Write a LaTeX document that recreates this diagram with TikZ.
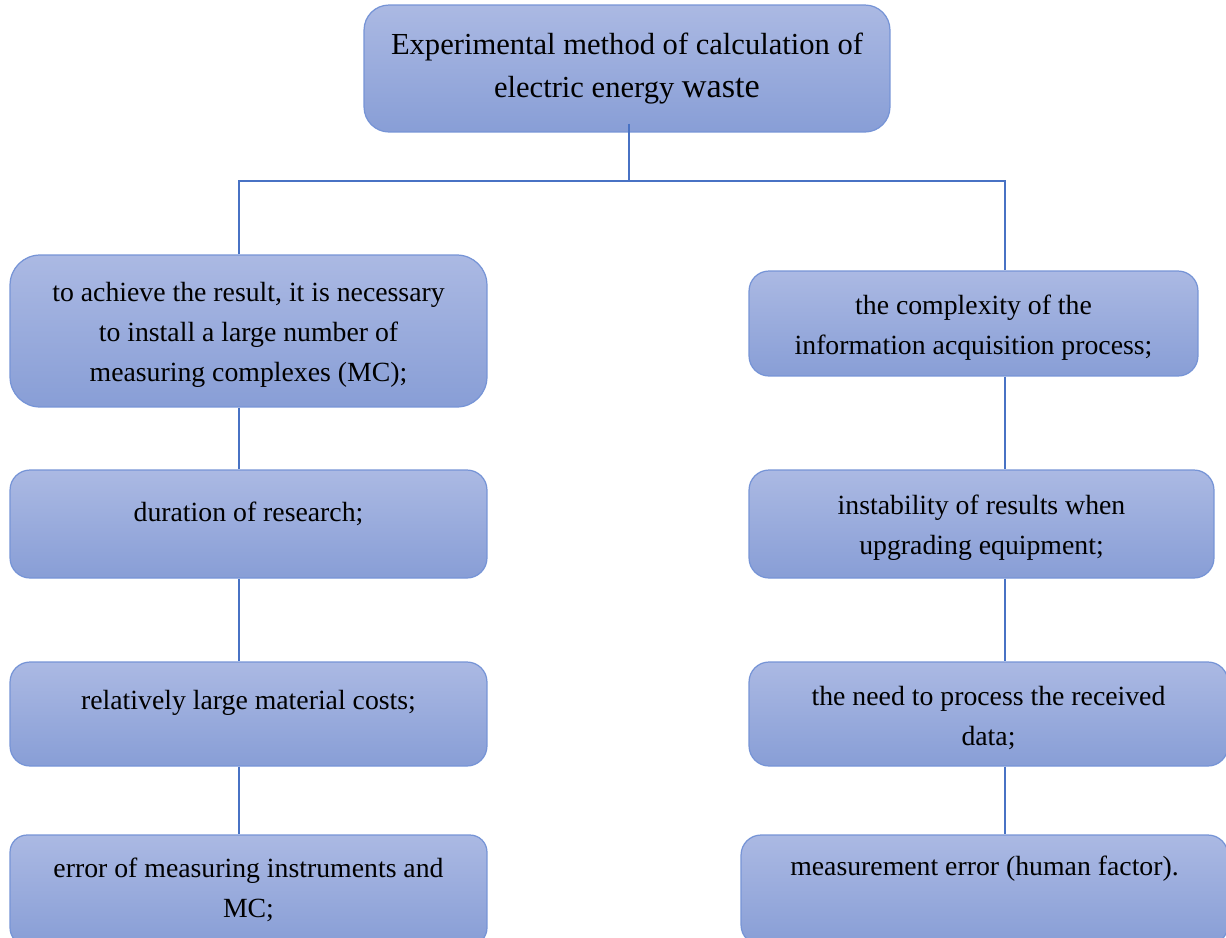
\documentclass[tikz,border=0pt]{standalone}
\usepackage{fontspec}
\setmainfont{Liberation Serif}
\usetikzlibrary{positioning}

\definecolor{boxtop}{RGB}{171,185,227}
\definecolor{boxbot}{RGB}{136,158,214}
\definecolor{boxline}{RGB}{118,148,214}
\definecolor{linkline}{RGB}{72,114,196}

\newcommand{\lft}{\rule{0pt}{15.6pt}}

\begin{document}
\begin{tikzpicture}[x=0.02cm, y=-0.02cm,
  box/.style={draw=boxline, line width=0.7pt, top color=boxtop, bottom color=boxbot,
    rounded corners=0.4cm, align=center, inner sep=0pt,
    font=\fontsize{15.8}{22.7}\selectfont},
  link/.style={draw=linkline, line width=1.1pt}]

\useasboundingbox (0,0) rectangle (1226,937);
\clip (0,0) rectangle (1226,937);

%boxes
\node [box, rounded corners=0.5cm, minimum width=10.52cm, minimum height=2.54cm,
  font=\fontsize{17.4}{24.9}\selectfont] (top) at (627,68.5)
  {Experimental method of calculation of\\electric energy {\fontsize{19.5}{24.9}\selectfont waste}};

\node [box, rounded corners=0.6cm, minimum width=9.54cm, minimum height=3.04cm] (l1) at (248.5,331)
  {\lft to achieve the result, it is necessary\\to install a large number of\\measuring complexes (MC);};
\node [box, minimum width=9.54cm, minimum height=2.16cm] (l2) at (248.5,524)
  {\lft duration of research;\\[-11.4pt]\strut};
\node [box, minimum width=9.54cm, minimum height=2.08cm] (l3) at (248.5,714)
  {\lft relatively large material costs;\\[-9.1pt]\strut};
\node [box, rounded corners=0.34cm, minimum width=9.54cm, minimum height=2.2cm] (l4) at (248.5,890)
  {error of measuring instruments and\\MC;};

\node [box, minimum width=8.98cm, minimum height=2.1cm] (r1) at (973.5,323.5)
  {\lft the complexity of the\\information acquisition process;};
\node [box, minimum width=9.3cm, minimum height=2.16cm] (r2) at (981.5,524)
  {\lft instability of results when\\upgrading equipment;};
\node [box, minimum width=9.58cm, minimum height=2.08cm] (r3) at (988.5,714)
  {\lft the need to process the received\\data;};
\node [box, minimum width=9.74cm, minimum height=2.2cm] (r4) at (984.5,890)
  {measurement error (human factor).\\[-2.3pt]\strut};

%lines
\coordinate (jm) at (629,181);
\coordinate (jl) at (239,181);
\coordinate (jr) at (1005,181);

\draw [link] ([yshift=0.18cm]top.south -| jm) -- (jm);
\draw [link] (jl |- l1.north) -- (jl) -- (jr) -- (jr |- r1.north);

\draw [link] (l1.south -| jl) -- (l2.north -| jl);
\draw [link] (l2.south -| jl) -- (l3.north -| jl);
\draw [link] (l3.south -| jl) -- (l4.north -| jl);

\draw [link] (r1.south -| jr) -- (r2.north -| jr);
\draw [link] (r2.south -| jr) -- (r3.north -| jr);
\draw [link] (r3.south -| jr) -- (r4.north -| jr);

\end{tikzpicture}
\end{document}
